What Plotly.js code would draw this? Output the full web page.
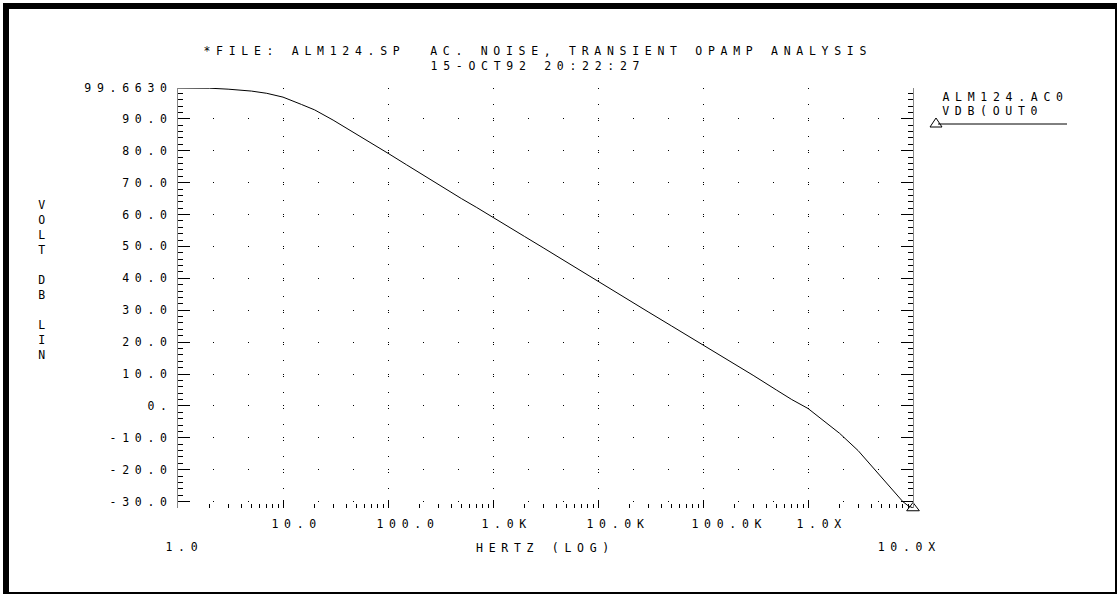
<!DOCTYPE html>
<html>
<head>
<meta charset="utf-8">
<script src="https://cdn.plot.ly/plotly-3.0.1.min.js"></script>
<style>
  html, body { margin: 0; padding: 0; background: #fff; }
  #plot { width: 1120px; height: 597px; position: relative; }
  #plot svg text { letter-spacing: 5.7px; }
  #frame {
    position: absolute; left: 3px; top: 3px; width: 1114px; height: 591px;
    box-sizing: border-box; border-top: 6px solid #000; border-left: 6px solid #000;
    border-right: 2px solid #000; border-bottom: 2px solid #000;
    pointer-events: none; z-index: 10;
  }
</style>
</head>
<body>
<div id="plot"></div>
<div id="frame"></div>
<script>
// ---- data ----
const freqHz = [1, 2, 3, 5, 7, 10, 15, 20, 30, 50, 70, 100, 150, 200, 300, 500, 700,
  1e3, 2e3, 3e3, 5e3, 1e4, 2e4, 3e4, 5e4, 1e5, 2e5, 3e5, 5e5, 7e5,
  1e6, 1.5e6, 2e6, 3e6, 4e6, 5e6, 6e6, 7e6, 8e6, 9e6, 1e7];
const vdbOut0 = [99.66, 99.6, 99.3, 98.7, 98.0, 96.8, 94.5, 92.8, 89.6, 85.3, 82.3,
  79.2, 75.6, 73.0, 69.4, 65.0, 62.2,
  59.2, 53.1, 49.6, 45.1, 39.0, 33.0, 29.5, 25.1, 19.2, 13.2, 9.6, 5.0, 2.0,
  -0.8, -5.2, -8.6, -14.0, -18.8, -22.3, -25.3, -27.8, -30.0, -31.3, -32.0];

const xTickVals = [1, 10, 100, 1e3, 1e4, 1e5, 1e6, 1e7];
const xTickText = ['', '10.0', '100.0', '1.0K', '10.0K', '100.0K', '1.0X', ''];
const xLowerLabels = ['1.0', '10.0X'];   // labels on the second row (first and last decade)
const yTickVals = [99.663, 90, 80, 70, 60, 50, 40, 30, 20, 10, 0, -10, -20, -30];
const yTickText = ['99.6630', '90.0', '80.0', '70.0', '60.0', '50.0', '40.0', '30.0',
  '20.0', '10.0', '0.', '-10.0', '-20.0', '-30.0'];
const minorDigits = [2, 3, 4, 5, 6, 7, 8, 9];

const titleLeft = '*FILE: ALM124.SP';
const titleRight = 'AC. NOISE, TRANSIENT OPAMP ANALYSIS';
const titleDate = '15-OCT92 20:22:27';
const xTitle = 'HERTZ (LOG)';
const yTitleWords = ['VOLT', 'DB', 'LIN'];
const legendFile = 'ALM124.AC0';
const legendSig = 'VDB(OUT0';

// ---- derived helpers ----
const xMinor = [];
xTickVals.slice(0, -1).forEach(d => minorDigits.forEach(m => xMinor.push(d * m)));
const yTitleText = yTitleWords.map(w => w.split('').join('<br>')).join('<br><br>');

const FONT = { family: 'DejaVu Sans Mono, monospace', size: 11.5, color: '#000' };
const PITCH = 12.65; // character pitch (glyph advance + letter spacing)

// pixel -> paper helpers (plot area: x 178..913, y 88..508)
const L = 178, R = 913, T = 88, B = 508;
const px = x => (x - L) / (R - L);
const py = y => (B - y) / (B - T);
// paper x of the centre of a text whose first glyph starts at pixel x0
const cx = (x0, s) => px(x0 + s.length * PITCH / 2);

const traces = [
  { x: freqHz, y: vdbOut0, type: 'scatter', mode: 'lines',
    line: { color: '#000', width: 1 }, cliponaxis: false, hoverinfo: 'skip' },
  { x: [freqHz[freqHz.length - 1]], y: [vdbOut0[vdbOut0.length - 1]], type: 'scatter', mode: 'markers',
    marker: { symbol: 'triangle-up-open', size: 11, color: '#000', line: { width: 1, color: '#000' } },
    cliponaxis: false, hoverinfo: 'skip' }
];

const triPath = 'M ' + px(930) + ' ' + py(127) + ' L ' + px(942) + ' ' + py(127) +
  ' L ' + px(936) + ' ' + py(118) + ' Z';

function ann(text, x, y, extra) {
  return Object.assign({ text: text, xref: 'paper', yref: 'paper', x: x, y: y,
    xanchor: 'center', yanchor: 'middle', showarrow: false, font: FONT }, extra || {});
}

const layout = {
  width: 1120, height: 597,
  margin: { l: L, r: 1120 - R, t: T, b: 597 - B },
  paper_bgcolor: '#fff', plot_bgcolor: '#fff',
  showlegend: false,
  font: FONT,
  xaxis: {
    type: 'log', range: [0, 7],
    tickmode: 'array', tickvals: xTickVals, ticktext: xTickText,
    ticks: 'inside', ticklen: 8, tickwidth: 1, tickcolor: '#000',
    showline: false, zeroline: false,
    showgrid: true, gridcolor: '#000', gridwidth: 1, griddash: '1px,15px',
    minor: { tickvals: xMinor, ticks: 'inside', ticklen: 4, tickwidth: 1, tickcolor: '#000', showgrid: false },
    tickfont: FONT, ticklabelstandoff: 7,
    ticklabelposition: 'outside right', ticklabelshift: -12,
    title: { text: xTitle, font: FONT, standoff: 14 }
  },
  yaxis: {
    range: [-32, 99.663],
    tickmode: 'array', tickvals: yTickVals, ticktext: yTickText,
    ticks: 'inside', ticklen: 12, tickwidth: 1, tickcolor: '#000',
    showline: true, linecolor: '#888', linewidth: 1, mirror: 'all',
    zeroline: false,
    showgrid: true, gridcolor: '#000', gridwidth: 1, griddash: '1px,34px',
    minor: { tickmode: 'linear', tick0: 0, dtick: 2, ticks: 'inside', ticklen: 5, tickwidth: 1, tickcolor: '#000', showgrid: false },
    tickfont: FONT, ticklabelstandoff: 2
  },
  annotations: [
    ann(titleLeft, cx(203, titleLeft), py(51)),
    ann(titleRight, cx(430, titleRight), py(51)),
    ann(titleDate, cx(430, titleDate), py(66.5)),
    ann(yTitleText, px(44), py(280)),
    ann(xLowerLabels[0], Math.log10(xTickVals[0]), py(547), { xref: 'x', xshift: 6 }),
    ann(xLowerLabels[1], Math.log10(xTickVals[xTickVals.length - 1]), py(547), { xref: 'x', xshift: -4 }),
    ann(legendFile, cx(942, legendFile), py(96.5)),
    ann(legendSig, cx(942, legendSig), py(111))
  ],
  shapes: [
    { type: 'line', xref: 'paper', yref: 'paper', x0: px(938), x1: px(1067), y0: py(124), y1: py(124), line: { color: '#000', width: 1 } },
    { type: 'path', xref: 'paper', yref: 'paper', path: triPath, line: { color: '#000', width: 1 } }
  ]
};

Plotly.newPlot('plot', traces, layout, { displayModeBar: false, staticPlot: true });
</script>
</body>
</html>
